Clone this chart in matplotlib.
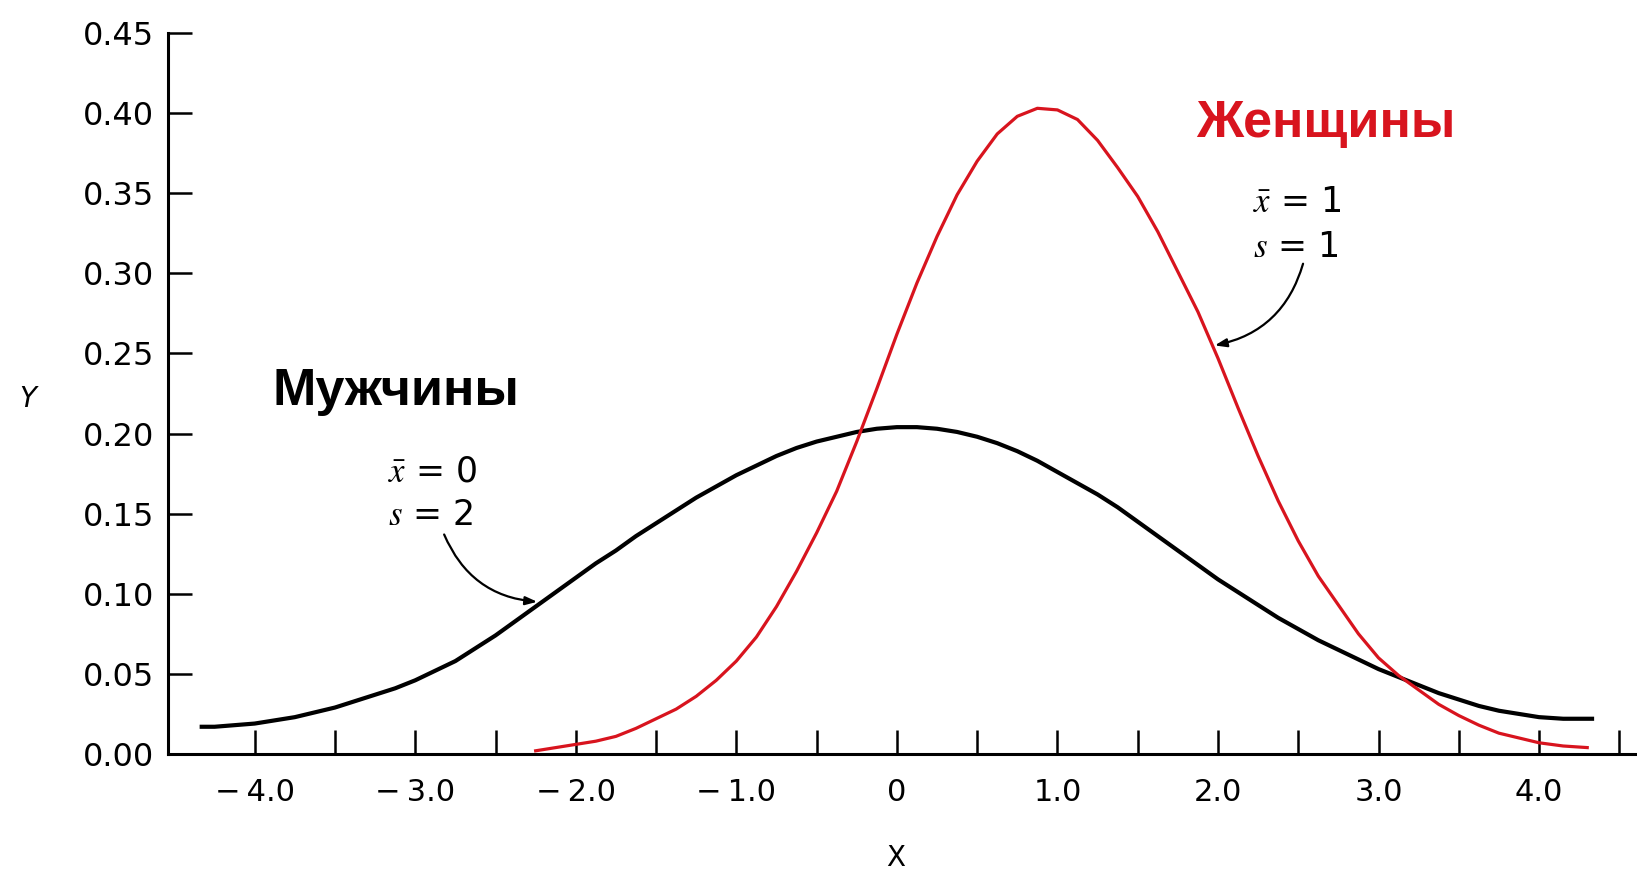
import matplotlib
matplotlib.use('Agg')
import matplotlib.pyplot as plt

plt.rcParams['font.family'] = ['DejaVu Sans']
plt.rcParams['mathtext.fontset'] = 'stix'

# точки кривых (шаг 0.125)
men_x = [-4.33, -4.25, -4.125, -4.0, -3.875, -3.75, -3.625, -3.5, -3.375, -3.25, -3.125,
         -3.0, -2.875, -2.75, -2.625, -2.5, -2.375, -2.25, -2.125, -2.0, -1.875, -1.75,
         -1.625, -1.5, -1.375, -1.25, -1.125, -1.0, -0.875, -0.75, -0.625, -0.5, -0.375,
         -0.25, -0.125, 0.0, 0.125, 0.25, 0.375, 0.5, 0.625, 0.75, 0.875, 1.0, 1.125,
         1.25, 1.375, 1.5, 1.625, 1.75, 1.875, 2.0, 2.125, 2.25, 2.375, 2.5, 2.625, 2.75,
         2.875, 3.0, 3.125, 3.25, 3.375, 3.5, 3.625, 3.75, 3.875, 4.0, 4.15, 4.33]
men_y = [0.017, 0.017, 0.018, 0.019, 0.021, 0.023, 0.026, 0.029, 0.033, 0.037, 0.041,
         0.046, 0.052, 0.058, 0.066, 0.074, 0.083, 0.092, 0.101, 0.110, 0.119, 0.127,
         0.136, 0.144, 0.152, 0.160, 0.167, 0.174, 0.180, 0.186, 0.191, 0.195, 0.198,
         0.201, 0.203, 0.204, 0.204, 0.203, 0.201, 0.198, 0.194, 0.189, 0.183, 0.176, 0.169,
         0.162, 0.154, 0.145, 0.136, 0.127, 0.118, 0.109, 0.101, 0.093, 0.085, 0.078, 0.071, 0.065,
         0.059, 0.053, 0.048, 0.043, 0.038, 0.034, 0.030, 0.027, 0.025, 0.023, 0.022, 0.022]

women_x = [-2.25, -2.125, -2.0, -1.875, -1.75, -1.625, -1.5, -1.375, -1.25, -1.125, -1.0,
           -0.875, -0.75, -0.625, -0.5, -0.375, -0.25, -0.125, 0.0, 0.125, 0.25, 0.375,
           0.5, 0.625, 0.75, 0.875, 1.0, 1.125, 1.25, 1.375, 1.5, 1.625, 1.75, 1.875,
           2.0, 2.125, 2.25, 2.375, 2.5, 2.625, 2.75, 2.875, 3.0, 3.125, 3.25, 3.375,
           3.5, 3.625, 3.75, 3.875, 4.0, 4.15, 4.3]
women_y = [0.002, 0.004, 0.006, 0.008, 0.011, 0.016, 0.022, 0.028, 0.036, 0.046, 0.058,
           0.073, 0.092, 0.114, 0.138, 0.164, 0.195, 0.228, 0.262, 0.294, 0.323, 0.349,
           0.370, 0.387, 0.398, 0.403, 0.402, 0.396, 0.383, 0.366, 0.348, 0.326, 0.301, 0.276,
           0.247, 0.216, 0.186, 0.158, 0.133, 0.111, 0.093, 0.075, 0.060, 0.049, 0.040, 0.031,
           0.024, 0.018, 0.013, 0.010, 0.007, 0.005, 0.004]

x_ticks = [-4.0, -3.0, -2.0, -1.0, 0.0, 1.0, 2.0, 3.0, 4.0]
x_labels = ['\u2212\u20094.0', '\u2212\u20093.0', '\u2212\u20092.0', '\u2212\u20091.0',
            '0', '1.0', '2.0', '3.0', '4.0']
x_minor = [-3.5, -2.5, -1.5, -0.5, 0.5, 1.5, 2.5, 3.5, 4.5]
y_ticks = [0.00, 0.05, 0.10, 0.15, 0.20, 0.25, 0.30, 0.35, 0.40, 0.45]

red = '#d8141e'

fig = plt.figure(figsize=(16.37, 8.75), dpi=100)
ax = fig.add_axes([168 / 1637, 1 - 754 / 875, 1 - 168 / 1637, (754 - 33) / 875])

ax.plot(men_x, men_y, color='black', lw=3.0, solid_joinstyle='round')
ax.plot(women_x, women_y, color=red, lw=2.3, solid_joinstyle='round')

ax.set_xlim(-4.54, 4.61)
ax.set_ylim(0, 0.45)
for s in ['top', 'right']:
    ax.spines[s].set_visible(False)
ax.spines['left'].set_linewidth(2.2)
ax.spines['bottom'].set_linewidth(2.2)

ax.set_xticks(x_ticks)
ax.set_xticklabels(x_labels)
ax.set_xticks(x_minor, minor=True)
ax.set_yticks(y_ticks)
ax.set_yticklabels([f'{v:.2f}' for v in y_ticks])
ax.tick_params(axis='x', which='both', direction='in', length=17, width=1.8, pad=17, labelsize=22)
ax.tick_params(axis='y', direction='in', length=17, width=1.8, pad=10, labelsize=23)

# подписи групп
ax.text(-3.12, 0.218, 'Мужчины', family='Liberation Sans', weight='bold', fontsize=37.5,
        ha='center', va='baseline')
ax.text(2.67, 0.385, 'Женщины', family='Liberation Sans', weight='bold', fontsize=37.5,
        color=red, ha='center', va='baseline')

ax.text(-3.17, 0.170, r'$\bar{x}$ = 0', fontsize=25, ha='left', va='baseline')
ax.text(-3.17, 0.143, r'$s$ = 2', fontsize=25, ha='left', va='baseline')
ax.text(2.22, 0.338, r'$\bar{x}$ = 1', fontsize=25, ha='left', va='baseline')
ax.text(2.22, 0.310, r'$s$ = 1', fontsize=25, ha='left', va='baseline')

arrow = dict(arrowstyle='-|>,head_length=0.7,head_width=0.25', color='black', lw=1.6,
             shrinkA=0, shrinkB=0)
ax.annotate('', xy=(-2.24, 0.095), xytext=(-2.82, 0.137),
            arrowprops=dict(arrow, connectionstyle='arc3,rad=0.3'))
ax.annotate('', xy=(1.98, 0.255), xytext=(2.53, 0.306),
            arrowprops=dict(arrow, connectionstyle='arc3,rad=-0.3'))

fig.text(28 / 1637, 1 - 399 / 875, 'Y', style='italic', fontsize=20, ha='center', va='center')
fig.text(896 / 1637, 1 - 858 / 875, 'X', fontsize=20, ha='center', va='center')

fig.savefig('out.png', dpi=100)
